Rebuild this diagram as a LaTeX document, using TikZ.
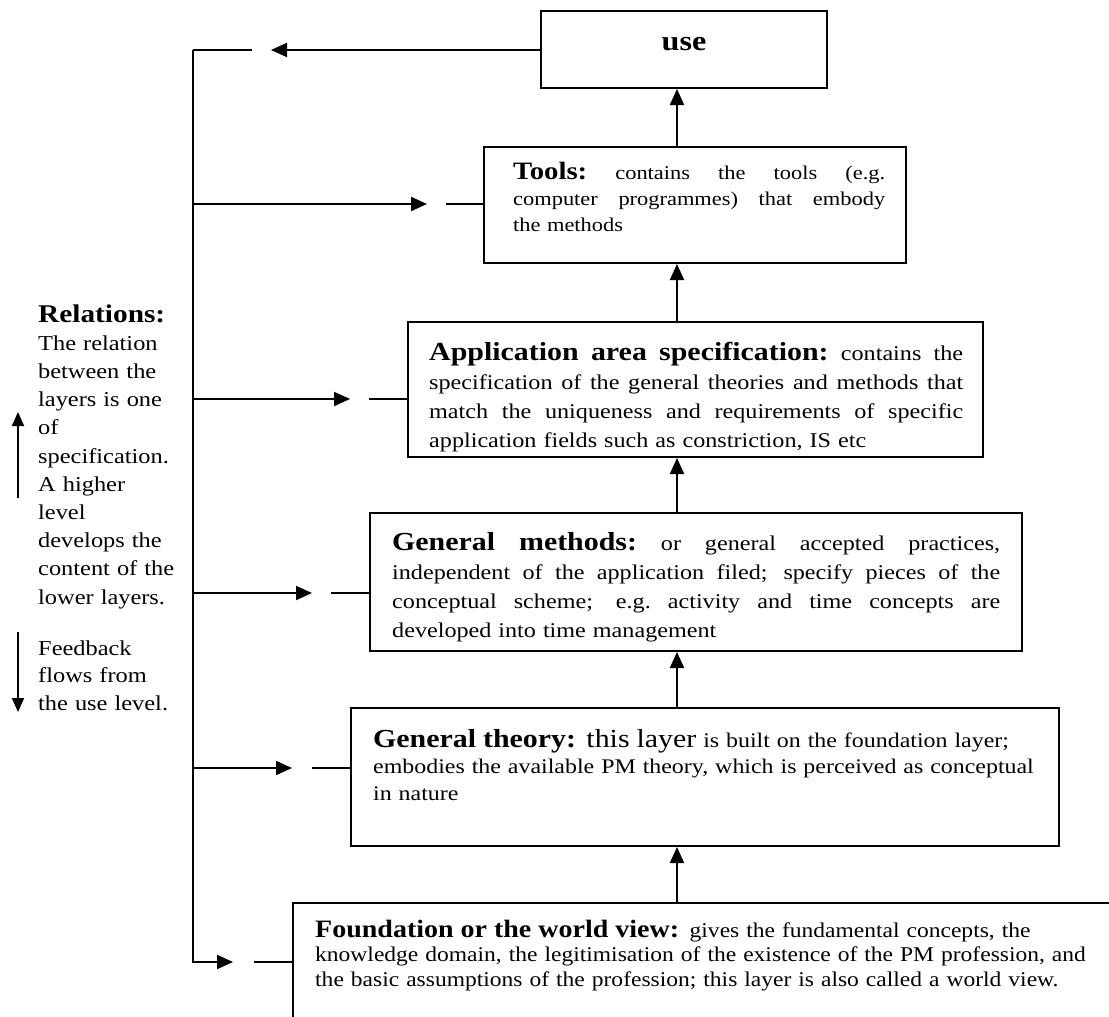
\documentclass[tikz,border=0pt]{standalone}
\usepackage{fontspec}
\setmainfont{Liberation Serif}[FakeStretch=1.15]
\newfontfamily\basefont{Liberation Serif}[FakeStretch=1.12]
\usetikzlibrary{arrows.meta}

\newcommand\lyrhead{\fontsize{26}{28}\selectfont\bfseries}
\newcommand\lyrbody{\fontsize{21}{29}\selectfont}
% one fully justified line of the given width: the word spaces share the slack
\newcommand\jline[2]{\leavevmode\hbox to #1{\spaceskip=0.25em plus 1fil\relax
  \xspaceskip=\spaceskip #2}}

\tikzset{
  layer/.style={draw, line width=2pt, inner sep=0pt},
  flow/.style={line width=2pt, -{Triangle[length=16pt,width=14pt]}},
  small flow/.style={line width=2pt, -{Triangle[length=14pt,width=12pt]}},
  link/.style={line width=2pt},
  txt/.style={inner sep=0pt, anchor=base west, align=left},
}

\begin{document}
\begin{tikzpicture}[x=1pt,y=-1pt]
\useasboundingbox (0,0) rectangle (1109,1017);
\clip (0,0) rectangle (1109,1017);
\fill[white] (0,0) rectangle (1109,1017);

% ---- layer boxes ----
\node[layer, minimum width=286pt, minimum height=77pt]  (use)   at (684,49.5) {};
\node[layer, minimum width=422pt, minimum height=116pt] (tools) at (695,205) {};
\node[layer, minimum width=575pt, minimum height=135pt] (app)   at (695.5,389.5) {};
\node[layer, minimum width=652pt, minimum height=138pt] (gm)    at (696,582) {};
\node[layer, minimum width=708pt, minimum height=138pt] (gt)    at (705,777) {};
\node[layer, minimum width=840pt, minimum height=140pt] (fd)    at (713,973) {};

% ---- texts inside the boxes ----
\node[inner sep=0pt, anchor=base, font=\fontsize{28}{30}\selectfont\bfseries] (usetxt) at (684,50) {use};

\node[txt, text width=372pt, font=\fontsize{19.5}{26}\selectfont] (toolstxt) at (513,179)
  {\jline{372pt}{{\fontsize{25}{28}\selectfont\bfseries Tools:} contains the tools (e.g.}\\
   \jline{372pt}{computer programmes) that embody}\\
   the methods};

\node[txt, text width=534pt, font=\lyrbody] (apptxt) at (429,360)
  {\jline{534pt}{{\lyrhead Application area specification:} contains the}\\
   \jline{534pt}{specification of the general theories and methods that}\\
   \jline{534pt}{match the uniqueness and requirements of specific}\\
   application fields such as constriction, IS etc};

\node[txt, text width=608pt, font=\lyrbody] (gmtxt) at (392,550)
  {\jline{608pt}{{\lyrhead General methods:} or general accepted practices,}\\
   \jline{608pt}{independent of the application filed; specify pieces of the}\\
   \jline{608pt}{conceptual scheme; e.g. activity and time concepts are}\\
   developed into time management};

\node[txt, text width=680pt, font=\fontsize{20.8}{26.5}\selectfont] (gttxt) at (373,747)
  {{\lyrhead General theory:} {\fontsize{26}{28}\selectfont this layer} is built on the foundation layer;\\
   embodies the available PM theory, which is perceived as conceptual\\
   in nature};

\node[txt, text width=800pt, font=\basefont\fontsize{21}{24.5}\selectfont] (fdtxt) at (315,937)
  {{\bfseries\fontsize{25}{26}\selectfont Foundation or the world view:} gives the fundamental concepts, the\\
   knowledge domain, the legitimisation of the existence of the PM profession, and\\
   the basic assumptions of the profession; this layer is also called a world view.};

% ---- upward specification arrows ----
\coordinate (ax) at (677,0);
\draw[flow] (tools.north -| ax) -- (use.south -| ax);
\draw[flow] (app.north -| ax) -- (tools.south -| ax);
\draw[flow] (gm.north -| ax) -- (app.south -| ax);
\draw[flow] (gt.north -| ax) -- (gm.south -| ax);
\draw[flow] (fd.north -| ax) -- (gt.south -| ax);

% ---- feedback loop ----
\coordinate (fbtop) at (193,50);
\coordinate (fbbot) at (193,962);
\coordinate (tipU)  at (271,50);
\coordinate (stubU) at (252,50);
\draw[flow] (use.west |- tipU) -- (tipU);
\draw[link] (stubU) -- (fbtop);

\coordinate (tipF)  at (233,962);
\coordinate (stubF) at (254,962);
\draw[flow] (fbtop) -- (fbbot) -- (tipF);
\draw[link] (stubF) -- (fd.west |- stubF);

\coordinate (tipT)  at (427,204);
\coordinate (stubT) at (446,204);
\draw[flow] (fbtop |- tipT) -- (tipT);
\draw[link] (stubT) -- (tools.west |- stubT);

\coordinate (tipA)  at (350,399);
\coordinate (stubA) at (369,399);
\draw[flow] (fbtop |- tipA) -- (tipA);
\draw[link] (stubA) -- (app.west |- stubA);

\coordinate (tipM)  at (312,593);
\coordinate (stubM) at (331,593);
\draw[flow] (fbtop |- tipM) -- (tipM);
\draw[link] (stubM) -- (gm.west |- stubM);

\coordinate (tipG)  at (292,768);
\coordinate (stubG) at (312,768);
\draw[flow] (fbtop |- tipG) -- (tipG);
\draw[link] (stubG) -- (gt.west |- stubG);

% ---- legend on the left ----
\node[txt, text width=170pt, font=\fontsize{21.2}{28.2}\selectfont] (relations) at (38,322)
  {{\fontsize{25.5}{28}\selectfont\bfseries Relations:}\\
   The relation\\
   between the\\
   layers is one\\
   of\\
   specification.\\
   A higher\\
   level\\
   develops the\\
   content of the\\
   lower layers.};

\node[txt, text width=170pt, font=\fontsize{21.2}{27.5}\selectfont] (feedback) at (38,655)
  {Feedback\\
   flows from\\
   the use level.};

\coordinate (upFrom) at (18,498);
\coordinate (upTo)   at (18,412);
\draw[small flow] (upFrom) -- (upTo);
\coordinate (downFrom) at (18,632);
\coordinate (downTo)   at (18,712);
\draw[small flow] (downFrom) -- (downTo);
\end{tikzpicture}
\end{document}
